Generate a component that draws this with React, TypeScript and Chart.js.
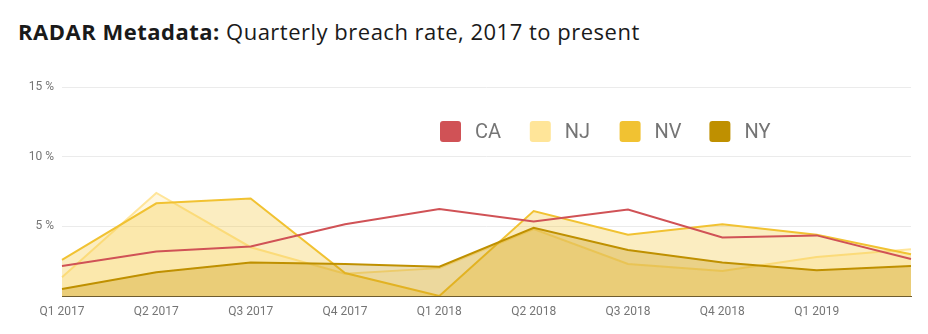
import React, { useEffect, useRef } from "react";
import { Chart, registerables } from "chart.js";

Chart.register(...registerables);

const categories = [
  "Q1 2017", "Q2 2017", "Q3 2017", "Q4 2017",
  "Q1 2018", "Q2 2018", "Q3 2018", "Q4 2018",
  "Q1 2019", "Q2 2019",
];
const caValues = [2.15, 3.2, 3.55, 5.15, 6.25, 5.35, 6.2, 4.2, 4.35, 2.65];
const njValues = [1.35, 7.4, 3.5, 1.6, 2.0, 4.8, 2.3, 1.8, 2.8, 3.35];
const nvValues = [2.6, 6.65, 7.0, 1.65, 0, 6.1, 4.4, 5.15, 4.4, 3.0];
const nyValues = [0.5, 1.7, 2.4, 2.3, 2.1, 4.9, 3.3, 2.4, 1.85, 2.15];
const seriesNames = ["CA", "NJ", "NV", "NY"];
const yTickValues = [0, 5, 10, 15];

const TICK_COLOR = "#757575";

const insideLegend = {
  id: "insideLegend",
  afterDraw(chart: any) {
    const ctx = chart.ctx;
    ctx.save();
    const startX = 432;
    const top = 113;
    const box = 21;
    const step = 89.8;
    chart.data.datasets.forEach((ds: any, i: number) => {
      const x = startX + i * step;
      ctx.fillStyle = ds.borderColor;
      ctx.beginPath();
      if (ctx.roundRect) ctx.roundRect(x, top, box, box, 3);
      else ctx.rect(x, top, box, box);
      ctx.fill();
      ctx.fillStyle = TICK_COLOR;
      ctx.font = "20px Roboto";
      ctx.textBaseline = "middle";
      ctx.textAlign = "left";
      ctx.fillText(ds.label, x + 35, top + box / 2 + 1);
    });
    ctx.restore();
  },
};

export default function App() {
  const ref = useRef<HTMLCanvasElement>(null);

  useEffect(() => {
    if (!ref.current) return;
    const colors = ["#d05256", "#ffe599", "#f1c232", "#bf9000"];
    const fills = [
      "rgba(0,0,0,0)",
      "rgba(255,229,153,0.3)",
      "rgba(241,194,50,0.3)",
      "rgba(191,144,0,0.3)",
    ];
    const values = [caValues, njValues, nvValues, nyValues];
    const chart = new Chart(ref.current, {
      type: "line",
      data: {
        labels: categories,
        datasets: seriesNames.map((name, i) => ({
          label: name,
          data: values[i],
          borderColor: colors[i],
          backgroundColor: fills[i],
          fill: i === 0 ? false : "origin",
          borderWidth: 2,
          pointRadius: 0,
          tension: 0,
          order: i === 0 ? -1 : 4 - i,
        })),
      },
      options: {
        animation: false,
        responsive: false,
        maintainAspectRatio: false,
        layout: { padding: { top: 79, right: 9, left: 0, bottom: 0 } },
        plugins: {
          legend: { display: false },
          tooltip: { enabled: false },
        },
        scales: {
          x: {
            grid: { display: false, drawTicks: false },
            border: { display: true, color: "#6e5c2e", width: 1 },
            ticks: {
              color: TICK_COLOR,
              font: { family: "Roboto", size: 12 },
              padding: 9,
              maxRotation: 0,
              autoSkip: false,
              callback: (_v: any, i: number) =>
                i === categories.length - 1 ? "" : categories[i],
            },
            afterFit: (s: any) => {
              s.height = 30;
            },
          },
          y: {
            min: yTickValues[0],
            max: yTickValues[yTickValues.length - 1],
            afterBuildTicks: (s: any) => {
              s.ticks = yTickValues.map((v) => ({ value: v }));
            },
            ticks: {
              color: TICK_COLOR,
              font: { family: "Roboto", size: 12 },
              padding: 8,
              callback: (v: any) => (v === 0 ? "" : `${v} %`),
            },
            grid: { color: "#ebebeb", drawTicks: false },
            border: { display: false },
            afterFit: (s: any) => {
              s.width = 54;
            },
          },
        },
      },
      plugins: [insideLegend],
    } as any);
    return () => chart.destroy();
  }, []);

  return (
    <div style={{ position: "relative", width: 912, height: 318 }}>
      <div
        style={{
          position: "absolute",
          left: 10,
          top: 12,
          fontFamily: "'Open Sans', sans-serif",
          fontSize: 22,
          lineHeight: "22px",
          letterSpacing: "0.5px",
          color: "#1a1a1a",
          whiteSpace: "nowrap",
        }}
      >
        <span style={{ fontWeight: 700 }}>RADAR Metadata:</span>{" "}
        <span style={{ fontWeight: 400 }}>Quarterly breach rate, 2017 to present</span>
      </div>
      <canvas
        ref={ref}
        width={912}
        height={318}
        style={{ position: "absolute", left: 0, top: 0, display: "block" }}
      />
    </div>
  );
}
